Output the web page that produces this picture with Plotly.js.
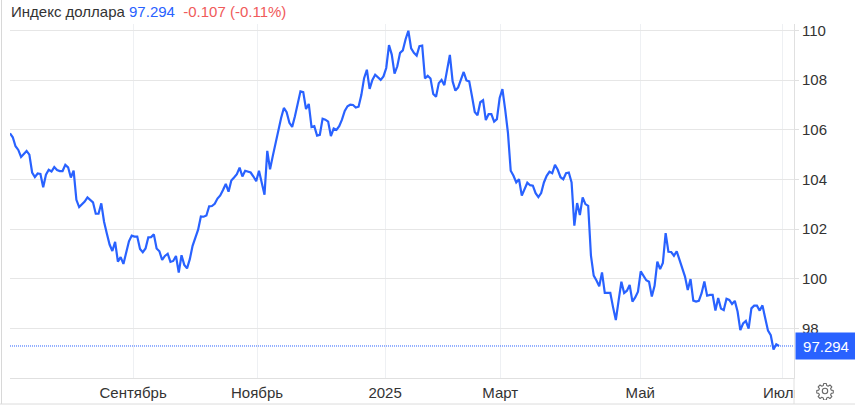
<!DOCTYPE html>
<html><head><meta charset="utf-8">
<script src="https://cdn.plot.ly/plotly-3.0.1.min.js"></script>
<style>html,body{margin:0;padding:0;background:#fff}#c{width:855px;height:406px}</style>
</head><body><div id="c"></div>
<script>
const seriesValues = [
105.86,105.7,105.34,105.19,104.91,105.01,105.15,105.0,104.28,104.1,
104.24,104.22,103.69,104.19,104.39,104.32,104.5,104.38,104.34,104.34,
104.59,104.49,104.08,104.36,103.18,102.89,103.0,103.11,103.28,103.16,
103.08,102.62,102.62,103.04,102.3,101.82,101.38,101.12,101.49,100.69,
100.87,100.6,101.1,101.51,101.74,101.7,101.7,101.2,101.07,101.22,
101.67,101.68,101.79,101.22,101.11,100.76,100.92,101.01,100.68,100.72,
100.92,100.25,100.95,100.56,100.42,100.79,101.33,101.68,101.98,102.51,
102.5,102.55,102.92,102.93,103.02,103.23,103.36,103.58,103.82,103.51,
103.96,104.08,104.21,104.48,104.12,104.35,104.31,104.28,104.12,103.93,
104.35,103.88,103.39,105.15,104.41,104.95,105.48,106.01,106.48,106.88,
106.71,106.28,106.12,106.55,107.08,107.55,107.52,106.84,107.04,106.11,
106.15,105.77,105.8,106.45,106.41,106.33,105.75,106.05,106.0,106.15,
106.41,106.76,106.95,107.01,107.0,106.9,106.93,107.4,108.08,108.42,
107.65,108.01,108.22,108.12,108.01,108.15,108.49,109.41,109.03,108.26,
108.56,109.1,109.2,109.65,109.99,109.28,109.1,108.99,109.37,109.39,
108.07,108.18,108.07,107.44,107.33,107.88,108.01,107.8,108.42,109.02,
107.95,107.58,107.71,108.04,108.33,107.99,107.95,107.35,106.72,106.59,
107.11,107.19,106.39,106.63,106.63,106.33,106.43,107.28,107.64,106.81,
105.88,104.35,104.15,103.88,104.01,103.35,103.61,103.87,103.77,103.75,
103.45,103.29,103.45,103.88,104.15,104.31,104.25,104.59,104.39,104.09,
104.01,104.25,104.28,103.88,102.14,103.05,102.57,103.28,103.01,102.94,
100.93,100.13,99.93,99.7,100.26,99.43,99.43,99.43,98.85,98.34,
99.12,99.88,99.43,99.52,99.75,99.08,99.25,99.48,100.3,100.1,
99.94,99.88,99.29,99.72,100.69,100.39,100.64,101.84,101.09,101.08,
100.93,101.11,100.77,100.43,100.09,99.55,99.99,99.12,99.08,99.11,
99.42,99.89,99.32,99.35,99.35,98.72,99.23,98.8,98.74,99.2,
99.15,98.99,99.11,98.68,97.93,98.2,98.3,97.99,98.81,98.92,
98.92,98.72,98.93,98.41,97.91,97.73,97.15,97.36,97.294];
const sessionIndex = seriesValues.map((v,i)=>i);
const monthTickPositions = [44.5,89.3,135.6,177.2,227.8,279.1];
const monthTickLabels = ["Сентябрь","Ноябрь","2025","Март","Май","Июль"];
const priceTicks = [98,100,102,104,106,108,110];
const lastValue = 97.294;
const change = "-0.107";
const changePct = "(-0.11%)";
const seriesName = "Индекс доллара";

const BLUE="#2962ff", FONT='"Liberation Sans",Arial,sans-serif';
const gear = 'data:image/svg+xml;base64,'+btoa(
 '<svg xmlns="http://www.w3.org/2000/svg" viewBox="0 0 24 24" fill="none" stroke="#6b6b6b" stroke-width="1.5" stroke-linejoin="round">'+
 '<path d="M10.2 2h3.6l.5 2.8 1.9.8 2.4-1.6 2.5 2.5-1.6 2.4.8 1.9 2.7.5v3.4l-2.7.5-.8 1.9 1.6 2.4-2.5 2.5-2.4-1.6-1.9.8-.5 2.8h-3.6l-.5-2.8-1.9-.8-2.4 1.6-2.5-2.5 1.6-2.4-.8-1.9-2.7-.5v-3.4l2.7-.5.8-1.9-1.6-2.4 2.5-2.5 2.4 1.6 1.9-.8z"/>'+
 '<circle cx="12" cy="12" r="3.6"/></svg>');

Plotly.newPlot("c",[{
  x:sessionIndex,y:seriesValues,type:"scatter",mode:"lines",
  line:{color:BLUE,width:2.2,shape:"linear"},hoverinfo:"x+y"
}],{
  width:855,height:406,
  margin:{l:10,r:61,t:24,b:28,pad:0},
  paper_bgcolor:"#fff",plot_bgcolor:"#fff",showlegend:false,
  font:{family:FONT,size:15,color:"#333"},
  title:{text:seriesName+' <span style="color:'+BLUE+'">'+lastValue+'</span>  <span style="color:#f05a5a">'+change+' '+changePct+'</span>',
    x:11/855,xanchor:"left",xref:"container",y:1-12/406,yanchor:"middle",yref:"container",
    font:{family:FONT,size:15,color:"#333"}},
  xaxis:{range:[0,283.4],tickmode:"array",tickvals:monthTickPositions,ticktext:monthTickLabels,
    showgrid:true,gridcolor:"#eef0f3",gridwidth:1,zeroline:false,
    showline:true,linecolor:"#e0e0e0",linewidth:1,ticks:"",ticklabelstandoff:1,
    tickfont:{family:FONT,size:15,color:"#333"},fixedrange:true},
  yaxis:{side:"right",range:[96.005,110.262],tickmode:"array",tickvals:priceTicks,
    ticktext:priceTicks.map(String),showgrid:true,gridcolor:"#e6e6e6",gridwidth:1,zeroline:false,
    showline:true,linecolor:"#e0e0e0",linewidth:1,ticks:"outside",ticklen:4,tickcolor:"#e0e0e0",
    tickfont:{family:FONT,size:15,color:"#333"},fixedrange:true},
  shapes:[
    {type:"line",xref:"paper",yref:"y",x0:0,x1:1,y0:lastValue,y1:lastValue,line:{color:BLUE,width:1,dash:"1px,1px"},layer:"above"},
    {type:"rect",xref:"paper",yref:"paper",x0:(794.5-10)/784,x1:(812-10)/784,y0:-25/354,y1:-0.5/354,fillcolor:"#fff",line:{width:0},layer:"above"},
    {type:"line",xref:"paper",yref:"paper",x0:(794-10)/784,x1:(794-10)/784,y0:-26/354,y1:0,line:{color:"#e0e0e0",width:1},layer:"above"},
    {type:"line",xref:"paper",yref:"paper",x0:(1.5-10)/784,x1:(1.5-10)/784,y0:-26/354,y1:24/354+1,line:{color:"#d8d8d8",width:1},layer:"above"},
    {type:"line",xref:"paper",yref:"paper",x0:(0-10)/784,x1:(855-10)/784,y0:-26/354,y1:-26/354,line:{color:"#dcdcdc",width:1},layer:"above"}
  ],
  annotations:[{
    xref:"paper",yref:"y",x:(795-10)/784,y:lastValue,xanchor:"left",yanchor:"middle",
    text:String(lastValue),showarrow:false,font:{family:FONT,size:15,color:"#fff"},
    bgcolor:BLUE,borderpad:0,width:60,height:26,align:"center"
  }],
  images:[{source:gear,xref:"paper",yref:"paper",x:(816-10)/784,y:-(382-378)/354,sizex:18/784,sizey:18/354,
    xanchor:"left",yanchor:"top",sizing:"contain",layer:"above"}]
},{staticPlot:true,displayModeBar:false});
</script></body></html>
